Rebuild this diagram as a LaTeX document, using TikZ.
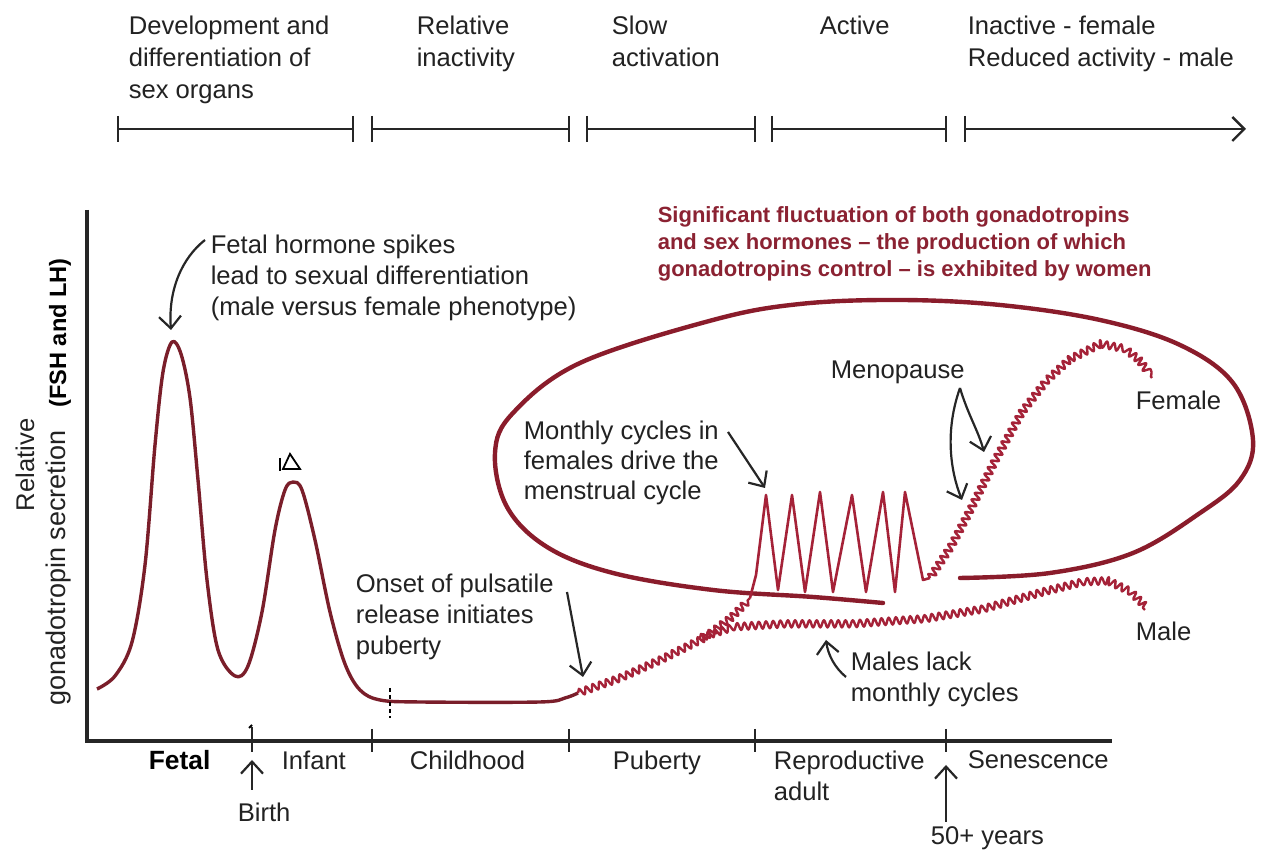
\documentclass[tikz,border=0pt]{standalone}
\usepackage{fontspec}
\setmainfont{Liberation Sans}
\usetikzlibrary{arrows.meta,decorations.pathmorphing}
\definecolor{curvec}{HTML}{7A1E2A}
\definecolor{ellc}{HTML}{8A1C2B}
\definecolor{redtxt}{HTML}{8B2232}
\definecolor{zigc}{HTML}{A52238}
\definecolor{txtc}{HTML}{222222}
\begin{document}
\begin{tikzpicture}[x=0.25pt,y=-0.25pt,
  lbl/.style={font=\fontsize{6.4}{7.75}\selectfont, text=txtc, align=left, inner sep=0pt, anchor=north west},
  hdl/.style={font=\fontsize{6.4}{8}\selectfont, text=txtc, align=left, inner sep=0pt, anchor=north west},
  redl/.style={font=\bfseries\fontsize{5.5}{6.75}\selectfont, text=redtxt, align=left, inner sep=0pt, anchor=north west},
  axl/.style={line width=0.8pt, draw=black!85},
  tkl/.style={line width=0.7pt, draw=black!85},
  arr/.style={line width=0.55pt, draw=black!85, -{Straight Barb[length=3pt,width=5.5pt,line width=0.55pt]}},
  crv/.style={draw=curvec, line width=0.85pt, line join=round},
  zz/.style={draw=zigc, line width=0.6pt, line join=round, decorate, decoration={snake, segment length=1.8pt, amplitude=0.9pt}},
]
\useasboundingbox (0,0) rectangle (1264,862);
\fill[white] (0,0) rectangle (1264,862);

% top timeline
\foreach \a/\b in {118/353,372/569,587/755,772/946}{
  \draw[tkl] (\a,116) -- (\a,142);
  \draw[tkl] (\b,116) -- (\b,142);
  \draw[tkl] (\a,129) -- (\b,129);
}
\draw[tkl] (965,116) -- (965,142);
\draw[tkl, -{Straight Barb[length=3pt,width=6pt,line width=0.6pt]}] (965,129) -- (1246,129);

\node[hdl] (t1) at (128,15) {Development and\\differentiation of\\sex organs};
\node[hdl] (t2) at (416,15) {Relative\\inactivity};
\node[hdl] (t3) at (611,15) {Slow\\activation};
\node[hdl] (t4) at (819,15) {Active};
\node[hdl] (t5) at (967,15) {Inactive - female\\Reduced activity - male};

% red note
\node[redl] (note) at (657,206) {Significant fluctuation of both gonadotropins\\and sex hormones -- the production of which\\gonadotropins control -- is exhibited by women};

% axes
\draw[axl] (87,210) -- (87,741) -- (1112,741);
\foreach \x in {372,569,755,946}{ \draw[tkl] (\x,729) -- (\x,752); }
\draw[tkl] (252,727) -- (252,752);
\draw[line width=0.45pt] (249,728) -- (252,725);

% y label
\node[font=\fontsize{6.4}{7.5}\selectfont, text=txtc, rotate=90, inner sep=0pt] (yl1) at (25,465) {Relative};
\node[font=\fontsize{6.75}{7.5}\selectfont, text=txtc, rotate=90, inner sep=0pt] (yl2) at (59,568) {gonadotropin secretion};
\node[font=\bfseries\fontsize{5.9}{7.5}\selectfont, text=black, rotate=90, inner sep=0pt] (yl3) at (60,333) {(FSH and LH)};

% x labels
\node[lbl, font=\bfseries\fontsize{6.6}{7.75}\selectfont, text=black] (fetal) at (148,750) {Fetal};
\node[lbl] (infant) at (281,750) {Infant};
\node[lbl] (child) at (409,750) {Childhood};
\node[lbl] (pub) at (612,750) {Puberty};
\node[lbl] (repro) at (773,750) {Reproductive\\adult};
\node[lbl] (sen) at (967,750) {Senescence};
\node[lbl] (birth) at (237,802) {Birth};
\node[lbl] (fifty) at (930,826) {50+ years};
\coordinate (birthA) at (252,790);
\coordinate (birthB) at (252,760);
\draw[arr] (birthA) -- (birthB);
\coordinate (fiftyA) at (946,822);
\coordinate (fiftyB) at (946,765);
\draw[arr] (fiftyA) -- (fiftyB);

% ellipse
\draw[ellc, line width=1.1pt, line cap=round] plot[smooth, tension=0.6] coordinates {(883,603) (813,597) (713,590) (613,573) (547,547) (507,507) (495,453) (513,413) (580,363) (713,320) (800,304) (900,300) (1000,305) (1100,320) (1180,345) (1233,383) (1253,440) (1240,480) (1200,513) (1133,553) (1050,573) (960,578)};

% fetal / infant / childhood curve
\draw[crv] plot[smooth, tension=0.55] coordinates {(97,689) (115,676) (132,642) (145,565) (155,445) (163,372) (172,342) (181,354) (190,398) (198,480) (207,580) (218,650) (235,676) (248,666) (262,612) (275,530) (285,490) (293,482) (302,490) (315,540) (330,612) (345,664) (360,690) (380,700) (420,702) (540,702) (565,698) (578,693)};

% puberty rise (shared)
\draw[zz] (578,693) -- (620,678) -- (660,660) -- (700,640) -- (730,618) -- (750,598);
% female monthly cycles
\draw[zigc, line width=0.65pt, line join=round] (750,598) -- (756,575) -- (766,495) -- (778,590) -- (792,495) -- (805,592) -- (820,492) -- (833,592) -- (852,495) -- (866,592) -- (883,492) -- (895,592) -- (905,492) -- (923,580) -- (930,578);
% female post-menopause
\draw[zz] (930,578) -- (950,548) -- (970,510) -- (995,460) -- (1020,415) -- (1045,383) -- (1070,360) -- (1100,345) -- (1125,350) -- (1140,362) -- (1152,378);
% male
\draw[zz] (700,638) -- (730,628) -- (780,625) -- (850,625) -- (920,620) -- (980,610) -- (1040,593) -- (1080,583) -- (1105,582) -- (1128,593) -- (1145,610);

% small marks
\draw[line width=0.3pt, dash pattern=on 1pt off 0.75pt] (390,688) -- (390,718);
\draw[line width=0.45pt] (283,469) -- (290,454) -- (300,469) -- cycle;
\draw[line width=0.45pt] (280,458) -- (280,471);

% annotations
\node[lbl] (fetaltxt) at (210,234) {Fetal hormone spikes\\lead to sexual differentiation\\(male versus female phenotype)};
\coordinate (fetA) at (205,240);
\coordinate (fetB) at (171,330);
\draw[arr] (fetA) .. controls (182,258) and (168,290) .. (fetB);

\node[lbl] (onset) at (355,573) {Onset of pulsatile\\release initiates\\puberty};
\coordinate (onA) at (567,592);
\coordinate (onB) at (583,677);
\draw[arr] (onA) -- (onB);

\node[lbl, font=\fontsize{6.4}{7.5}\selectfont] (monthly) at (523,420) {Monthly cycles in\\females drive the\\menstrual cycle};
\coordinate (moA) at (728,432);
\coordinate (moB) at (765,488);
\draw[arr] (moA) -- (moB);

\node[lbl] (meno) at (830,360) {Menopause};
\coordinate (meA) at (960,388);
\coordinate (meB) at (984,452);
\coordinate (meC) at (962,500);
\draw[arr] (meA) .. controls (968,415) and (978,430) .. (meB);
\draw[arr] (meA) .. controls (945,430) and (950,470) .. (meC);

\node[lbl] (female) at (1135,390) {Female};
\node[lbl] (male) at (1135,621) {Male};

\node[lbl] (lack) at (850,651) {Males lack\\monthly cycles};
\coordinate (laA) at (846,677);
\coordinate (laB) at (826,640);
\draw[arr] (laA) .. controls (835,668) and (828,655) .. (laB);
\end{tikzpicture}
\end{document}
